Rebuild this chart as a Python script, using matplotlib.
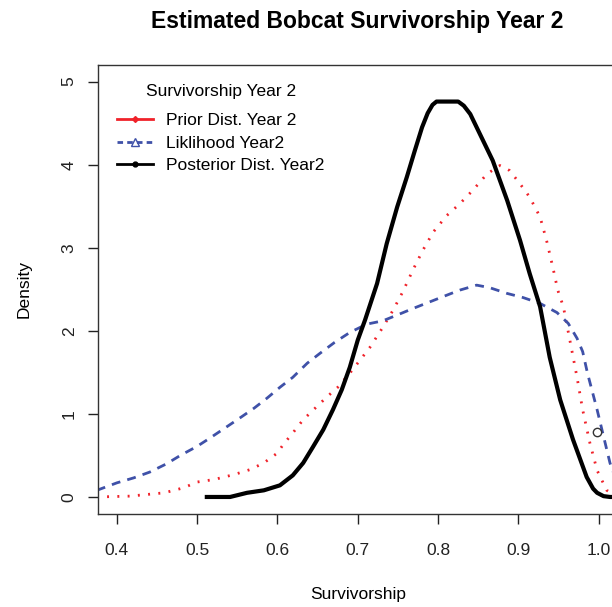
import matplotlib
matplotlib.use("Agg")
import matplotlib.pyplot as plt
from matplotlib.lines import Line2D

plt.rcParams["font.family"] = ["Liberation Sans", "DejaVu Sans"]

# density curves
prior_x = [0.375, 0.416, 0.459, 0.483, 0.50, 0.521, 0.546, 0.566, 0.583, 0.60,
           0.607, 0.619, 0.632, 0.647, 0.661, 0.675, 0.690, 0.703, 0.715, 0.731,
           0.744, 0.756, 0.769, 0.781, 0.794, 0.811, 0.827, 0.843, 0.861, 0.877,
           0.889, 0.902, 0.914, 0.927, 0.935, 0.943, 0.949, 0.956, 0.964, 0.973,
           0.980, 0.989, 0.998, 1.010, 1.025]
prior_y = [0.0, 0.01, 0.05, 0.11, 0.18, 0.21, 0.27, 0.33, 0.41, 0.53,
           0.63, 0.77, 0.93, 1.07, 1.20, 1.32, 1.49, 1.65, 1.80, 2.04,
           2.25, 2.47, 2.74, 2.97, 3.19, 3.39, 3.53, 3.69, 3.89, 3.99,
           3.93, 3.77, 3.61, 3.37, 3.09, 2.76, 2.49, 2.29, 1.89, 1.44,
           1.05, 0.65, 0.32, 0.08, 0.0]

lik_x = [0.375, 0.40, 0.421, 0.441, 0.462, 0.479, 0.50, 0.516, 0.533, 0.553,
         0.571, 0.587, 0.603, 0.619, 0.637, 0.653, 0.671, 0.690, 0.711, 0.731,
         0.749, 0.769, 0.790, 0.811, 0.827, 0.848, 0.864, 0.886, 0.906, 0.927,
         0.948, 0.962, 0.973, 0.980, 0.986, 0.998, 1.005, 1.014, 1.025]
lik_y = [0.08, 0.17, 0.23, 0.30, 0.40, 0.50, 0.61, 0.71, 0.82, 0.95,
         1.07, 1.19, 1.32, 1.44, 1.61, 1.73, 1.86, 1.98, 2.08, 2.12,
         2.19, 2.27, 2.35, 2.43, 2.49, 2.55, 2.52, 2.45, 2.40, 2.33,
         2.22, 2.09, 1.91, 1.75, 1.49, 1.05, 0.77, 0.41, 0.10]

post_x = [0.512, 0.541, 0.562, 0.583, 0.603, 0.619, 0.632, 0.644, 0.657, 0.669,
          0.680, 0.690, 0.700, 0.709, 0.724, 0.736, 0.749, 0.761, 0.771, 0.780,
          0.787, 0.793, 0.798, 0.825, 0.832, 0.840, 0.856, 0.868, 0.886, 0.902,
          0.914, 0.927, 0.939, 0.952, 0.968, 0.985, 0.993, 0.998, 1.006, 1.014,
          1.03]
post_y = [0.0, 0.0, 0.05, 0.08, 0.14, 0.26, 0.41, 0.60, 0.81, 1.05,
          1.29, 1.56, 1.89, 2.13, 2.57, 3.05, 3.49, 3.85, 4.17, 4.45,
          4.62, 4.72, 4.76, 4.76, 4.71, 4.61, 4.29, 4.05, 3.57, 3.09,
          2.69, 2.29, 1.68, 1.17, 0.69, 0.24, 0.10, 0.05, 0.01, 0.0,
          0.0]

stray_pt = (0.998, 0.78)

x_ticks = [0.4, 0.5, 0.6, 0.7, 0.8, 0.9, 1.0]
y_ticks = [0, 1, 2, 3, 4, 5]

RED = "#f0222a"
BLUE = "#3f51a8"
FS = 12.5

fig = plt.figure(figsize=(6.12, 6.07), dpi=100)
ax = fig.add_axes([0.1595, 0.1539, 0.8503, 0.739])

ax.plot(prior_x, prior_y, color=RED, lw=2, linestyle=(0, (0.7, 3.0)))
ax.plot(lik_x, lik_y, color=BLUE, lw=2, linestyle=(0, (3.2, 2.6)))
ax.plot(post_x, post_y, color="black", lw=3, solid_joinstyle="round")
ax.plot([stray_pt[0]], [stray_pt[1]], "o", mfc="none", mec="#333333",
        ms=6, mew=1)

ax.set_xlim(0.376, 1.024)
ax.set_ylim(-0.2, 5.2)
ax.set_xticks(x_ticks)
ax.set_xticklabels([f"{v:.1f}" for v in x_ticks])
ax.set_yticks(y_ticks)
ax.set_yticklabels([str(v) for v in y_ticks], rotation=90, va="center")
ax.tick_params(direction="out", length=7, width=1, labelsize=FS,
               colors="#222222", pad=14)
ax.tick_params(axis="y", pad=8)
for s in ax.spines.values():
    s.set_linewidth(1)
    s.set_color("#333333")

ax.set_xlabel("Survivorship", fontsize=FS, labelpad=21)
ax.set_ylabel("Density", fontsize=FS, labelpad=22)
fig.text(0.584, 0.965, "Estimated Bobcat Survivorship Year 2", ha="center",
         va="center", fontsize=16.5, fontweight="bold")

handles = [
    Line2D([], [], color=RED, lw=2, marker="D", ms=3),
    Line2D([], [], color=BLUE, lw=2, linestyle=(0, (2, 1.5)), marker="^",
           mfc="none", ms=6),
    Line2D([], [], color="black", lw=2, marker="o", ms=3.5),
]
leg = ax.legend(handles, ["Prior Dist. Year 2", "Liklihood Year2",
                          "Posterior Dist. Year2"],
                title="Survivorship Year 2", loc="upper left", frameon=False,
                fontsize=FS, title_fontsize=FS, handlelength=2.1,
                labelspacing=0.43, borderaxespad=0.7, handletextpad=0.75)
leg._legend_box.sep = 10

fig.savefig("out.png", dpi=100)
